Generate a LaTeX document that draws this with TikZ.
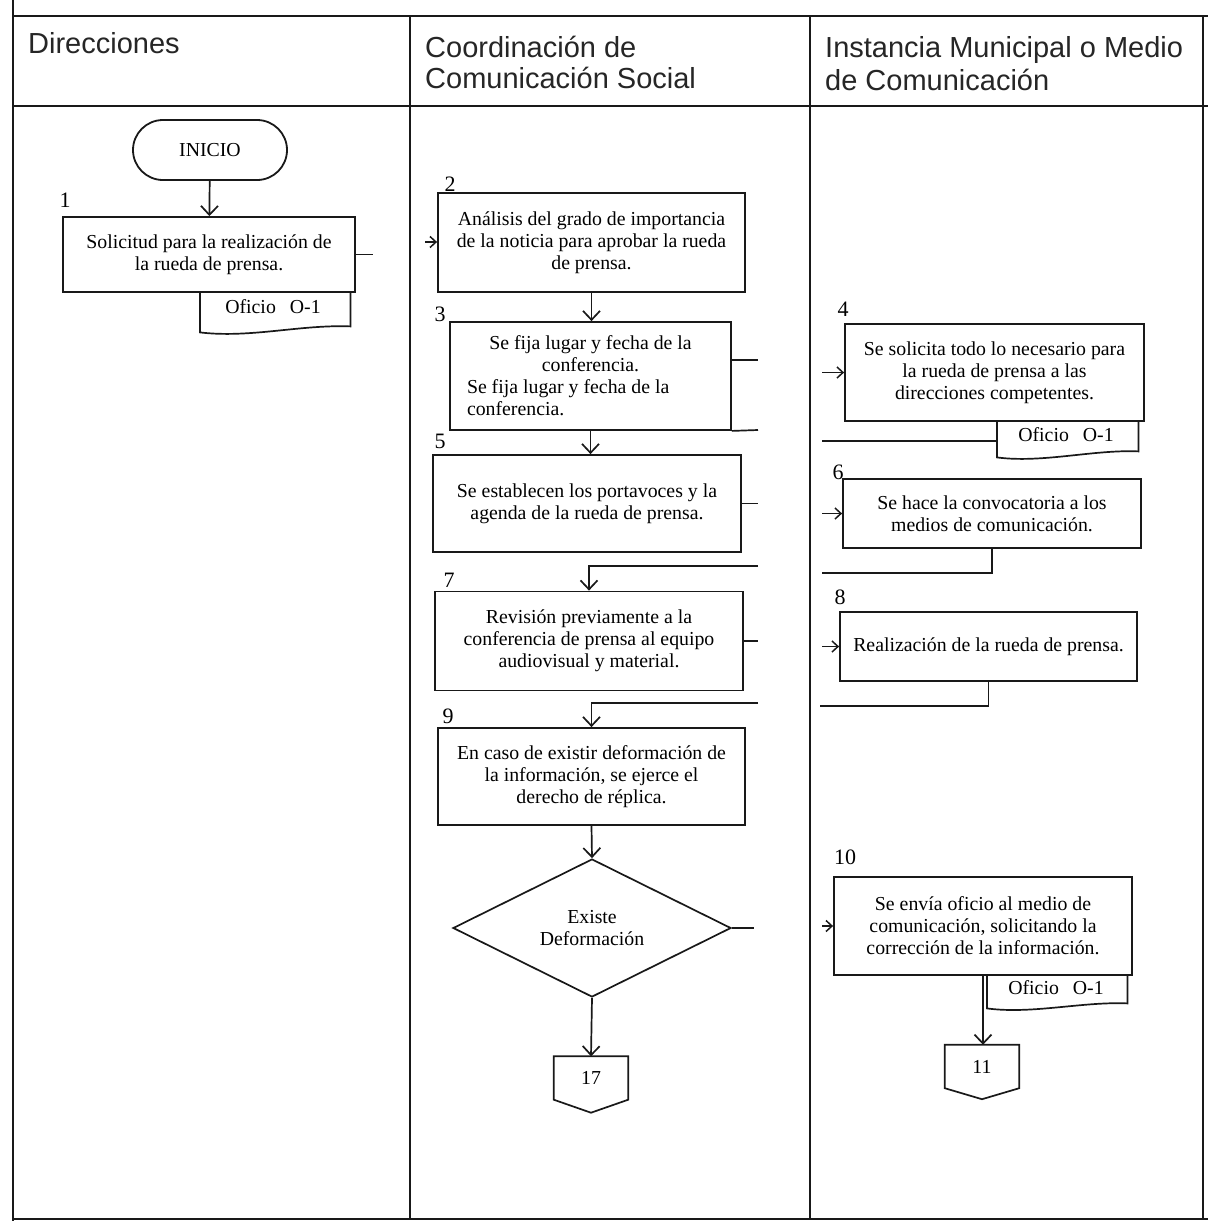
\documentclass[tikz,border=0pt]{standalone}
\usepackage{fontspec}
\setmainfont{Liberation Serif}
\newfontfamily\hdrfam{Liberation Sans}
\usetikzlibrary{arrows.meta,shapes.geometric}
\newcommand{\boxfnt}{\rmfamily\fontsize{19.8}{22}\selectfont}
\newcommand{\numfnt}{\rmfamily\fontsize{22}{24}\selectfont}
\newcommand{\hdrfnt}{\hdrfam\fontsize{29}{33}\selectfont}
\begin{document}
\begin{tikzpicture}[x=1pt,y=-1pt,
  lane/.style={line width=2.4pt, draw=black!90},
  stepbox/.style={draw=black!90, line width=1.8pt, rectangle, inner sep=2pt, align=center, font=\boxfnt},
  flow/.style={draw=black!90, line width=1.7pt, -{Straight Barb[length=9pt,width=17pt,line width=1.7pt]}},
  flowsm/.style={draw=black!90, line width=1.5pt, -{Straight Barb[length=6pt,width=11pt,line width=1.5pt]}},
  link/.style={draw=black!90, line width=1.7pt},
  num/.style={font=\numfnt, inner sep=0pt},
  hdr/.style={font=\hdrfnt, anchor=base west, inner sep=0pt, text=black!85},
  doctxt/.style={font=\boxfnt, inner sep=0pt, anchor=north west},
  conn/.style={font=\boxfnt, inner sep=0pt, minimum width=74pt, minimum height=43pt},
]
\useasboundingbox (0,0) rectangle (1208,1224);
\fill[white] (0,0) rectangle (1208,1224);

% ---- frame ----
\draw[lane] (13,0) -- (13,1221);
\draw[lane] (12,16) -- (1208,16);
\draw[lane] (12,106) -- (1208,106);
\draw[lane] (12,1219) -- (1208,1219);
\draw[lane] (410,16) -- (410,1219);
\draw[lane] (810,16) -- (810,1219);
\draw[lane] (1203,16) -- (1203,1219);

% ---- headers ----
\node[hdr] (h1) at (28,53) {Direcciones};
\node[hdr] (h2a) at (425,57) {Coordinación de};
\node[hdr] (h2b) at (425,88) {Comunicación Social};
\node[hdr] (h3a) at (825,57) {Instancia Municipal o Medio};
\node[hdr] (h3b) at (825,90) {de Comunicación};

% ---- column 1 ----
\node[stepbox, rounded corners=30pt, minimum width=154pt, minimum height=60pt] (ini) at (210,150) {INICIO};
\node[num] (n1) at (65,200) {1};
\node[stepbox, minimum width=292pt, minimum height=75pt] (b1) at (209,254.5)
  {Solicitud para la realización de\\la rueda de prensa.};
\node[doctxt, minimum width=150pt, minimum height=40pt] (d1) at (200,292) {};
\draw[link] (d1.north west) -- (d1.south west) .. controls +(50,6) and +(-50,-2) .. ([yshift=6pt]d1.south east) -- (d1.north east);
\node[font=\boxfnt, inner sep=0pt] (d1t) at (273,307) {Oficio\hspace{14pt}O-1};

% ---- column 2 ----
\node[num] (n2) at (450,184) {2};
\node[stepbox, minimum width=307pt, minimum height=99pt] (b2) at (591.5,242.5)
  {Análisis del grado de importancia\\de la noticia para aprobar la rueda\\de prensa.};
\node[num] (n3) at (440,314) {3};
\node[stepbox, minimum width=281pt, minimum height=108pt] (b3) at (590.5,376)
  {\parbox{247pt}{\centering Se fija lugar y fecha de la\\conferencia.\par\raggedright Se fija lugar y fecha de la\\conferencia.}};
\node[num] (n5) at (440,441) {5};
\node[stepbox, minimum width=308pt, minimum height=97pt] (b5) at (587,503.5)
  {Se establecen los portavoces y la\\agenda de la rueda de prensa.};
\node[num] (n7) at (449,580) {7};
\node[stepbox, minimum width=308pt, minimum height=99pt] (b7) at (589,641)
  {Revisión previamente a la\\conferencia de prensa al equipo\\audiovisual y material.};
\node[num] (n9) at (448,716) {9};
\node[stepbox, minimum width=307pt, minimum height=97pt] (b9) at (591.5,776.5)
  {En caso de existir deformación de\\la información, se ejerce el\\derecho de réplica.};
\node[diamond, draw=black!90, line width=1.7pt, minimum width=278pt, minimum height=138pt, inner sep=0pt, aspect=2, align=center, font=\boxfnt] (dec) at (592,928)
  {Existe\\Deformación};
\node[conn] (c17) at (591,1078) {17};
\draw[link] (c17.north west) -- (c17.south west) -- ([yshift=-13pt]c17.south) -- (c17.south east) -- (c17.north east) -- cycle;

% ---- column 3 ----
\node[num] (n4) at (843,309) {4};
\node[stepbox, minimum width=299pt, minimum height=97pt] (b4) at (994.5,372.5)
  {Se solicita todo lo necesario para\\la rueda de prensa a las\\direcciones competentes.};
\node[doctxt, minimum width=141pt, minimum height=36pt] (d4) at (997,421) {};
\draw[link] (d4.north west) -- (d4.south west) .. controls +(45,6) and +(-45,-2) .. ([yshift=6pt]d4.south east) -- (d4.north east);
\node[font=\boxfnt, inner sep=0pt] (d4t) at (1066,435) {Oficio\hspace{14pt}O-1};
\node[num] (n6) at (838,472) {6};
\node[stepbox, minimum width=298pt, minimum height=69pt] (b6) at (992,513.5)
  {Se hace la convocatoria a los\\medios de comunicación.};
\node[num] (n8) at (840,597) {8};
\node[stepbox, minimum width=297pt, minimum height=69pt] (b8) at (988.5,646.5)
  {Realización de la rueda de prensa.};
\node[num] (n10) at (845,857) {10};
\node[stepbox, minimum width=298pt, minimum height=98pt] (b10) at (983,926)
  {Se envía oficio al medio de\\comunicación, solicitando la\\corrección de la información.};
\node[doctxt, minimum width=140pt, minimum height=33pt] (d10) at (987,975) {};
\draw[link] (d10.north west) -- (d10.south west) .. controls +(45,6) and +(-45,-2) .. ([yshift=5pt]d10.south east) -- (d10.north east);
\node[font=\boxfnt, inner sep=0pt] (d10t) at (1056,988) {Oficio\hspace{14pt}O-1};
\node[conn] (c11) at (982,1066.5) {11};
\draw[link] (c11.north west) -- (c11.south west) -- ([yshift=-11pt]c11.south) -- (c11.south east) -- (c11.north east) -- cycle;

% ---- free ends of cut connectors ----
\coordinate (o1) at (373,254.5);
\coordinate (i2) at (425,242);
\coordinate (o3) at (758,360);
\coordinate (r4b) at (758,430);
\coordinate (o5) at (758,503.5);
\coordinate (r6b) at (758,566);
\coordinate (o7) at (758,641);
\coordinate (r8b) at (758,703);
\coordinate (odec) at (754,928);
\coordinate (i4) at (822,372.5);
\coordinate (r4) at (822,441);
\coordinate (i6) at (822,513.5);
\coordinate (r6) at (822,573);
\coordinate (i8) at (822,646.5);
\coordinate (r8) at (820,706);
\coordinate (i10) at (822,926);

% ---- connectors ----
\draw[flow] (ini) -- (b1);
\draw[link] (b1.east) -- (o1);
\draw[flowsm] (i2) -- (i2 -| b2.west);
\draw[flow] (b2.south) -- (b2.south |- b3.north);
\draw[link] (b3.east |- o3) -- (o3);
\draw[link] (r4b) -- (b3.south east);
\draw[flow] (b3.south) -- (b3.south |- b5.north);
\draw[link] (b5.east) -- (o5);
\draw[flow] (r6b) -| (b7.north);
\draw[link] (b7.east) -- (o7);
\draw[flow] (r8b) -| (b9.north);
\draw[flow] (b9.south) -- (dec.north);
\draw[flow] (dec.south) -- (c17.north);
\draw[link] (dec.east) -- (odec);

\draw[flowsm] (i4) -- (b4.west);
\draw[link] (d4.west |- r4) -- (r4);
\draw[flowsm] (i6) -- (b6.west);
\draw[link] (b6.south) |- (r6);
\draw[flowsm] (i8) -- (b8.west);
\draw[link] (b8.south) |- (r8);
\draw[flowsm] (i10) -- (b10.west);
\draw[flow] (b10.south) -- (b10.south |- c11.north);
\end{tikzpicture}
\end{document}
